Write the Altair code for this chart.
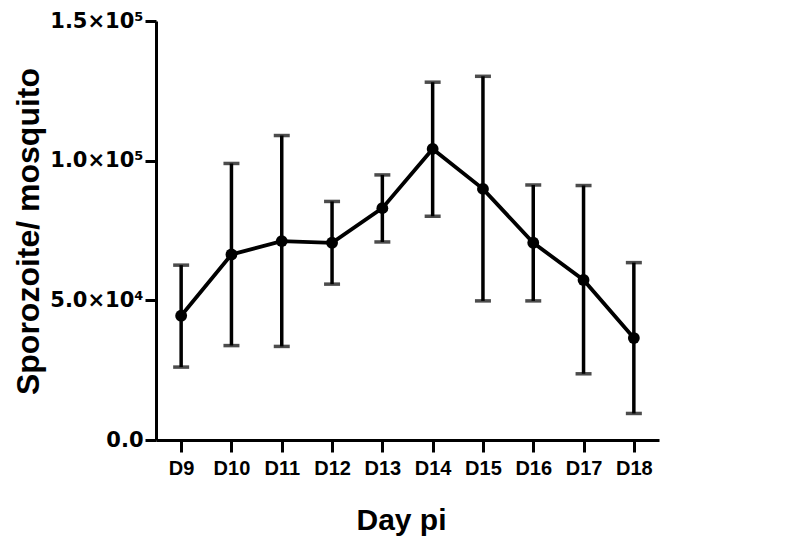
import altair as alt
import pandas as pd

days = ["D9", "D10", "D11", "D12", "D13", "D14", "D15", "D16", "D17", "D18"]
mean = [44500, 66400, 71200, 70600, 83000, 104200, 89900, 70600, 57300, 36500]
upper = [62600, 99000, 109000, 85400, 94900, 128100, 130200, 91300, 91100, 63500]
lower = [26100, 33800, 33500, 55800, 70900, 80100, 49800, 49800, 23700, 9500]

df = pd.DataFrame({"day": days, "mean": mean, "upper": upper, "lower": lower})

label_expr = ("datum.value == 0 ? '0.0' : datum.value == 50000 ? '5.0×10⁴' : "
              "datum.value == 100000 ? '1.0×10⁵' : '1.5×10⁵'")

x = alt.X("day:N", sort=days, scale=alt.Scale(type="point", padding=0.5),
          axis=alt.Axis(title="Day pi", labelAngle=0, labelFont="Liberation Sans",
                        labelFontSize=20, labelFontWeight="bold", labelColor="black",
                        labelPadding=6, tickSize=12, tickWidth=3, tickColor="black",
                        domainWidth=3, domainColor="black",
                        titleFont="Liberation Sans", titleFontSize=30, titleFontWeight="bold",
                        titleColor="black", titleX=245, titleY=89, titleAlign="center",
                        titleBaseline="alphabetic"))
y_axis = alt.Axis(title="Sporozoite/ mosquito", values=[0, 50000, 100000, 150000],
                  labelExpr=label_expr, labelFont="DejaVu Sans", labelFontSize=21,
                  labelFontWeight="bold", labelColor="black", labelPadding=2,
                  tickSize=11, tickWidth=3, tickColor="black", domainWidth=3,
                  domainColor="black", grid=False,
                  titleFont="Liberation Sans", titleFontSize=32, titleFontWeight="bold",
                  titleColor="black", titleX=-118, titleY=210, titleAngle=-90,
                  titleAlign="center", titleBaseline="alphabetic")

base = alt.Chart(df)
rules = base.mark_rule(color="black", strokeWidth=3.5).encode(
    x=x, y=alt.Y("lower:Q", scale=alt.Scale(domain=[0, 150000], nice=False), axis=y_axis),
    y2="upper:Q")
caps_top = base.mark_tick(color="black", thickness=3.5, size=16, orient="horizontal").encode(
    x=alt.X("day:N", sort=days), y="upper:Q")
caps_bot = base.mark_tick(color="black", thickness=3.5, size=16, orient="horizontal").encode(
    x=alt.X("day:N", sort=days), y="lower:Q")
line = base.mark_line(color="black", strokeWidth=3.8).encode(
    x=alt.X("day:N", sort=days), y="mean:Q")
pts = base.mark_circle(color="black", opacity=1, size=140).encode(
    x=alt.X("day:N", sort=days), y="mean:Q")

chart = alt.layer(rules, caps_top, caps_bot, line, pts).properties(
    width=503, height=419,
    background="white",
    autosize=alt.AutoSizeParams(type="none"),
    padding={"left": 148, "top": 13, "right": 130, "bottom": 98},
).configure_view(stroke=None)

chart.save("out.html", embed_options={"renderer": "svg", "actions": False})
